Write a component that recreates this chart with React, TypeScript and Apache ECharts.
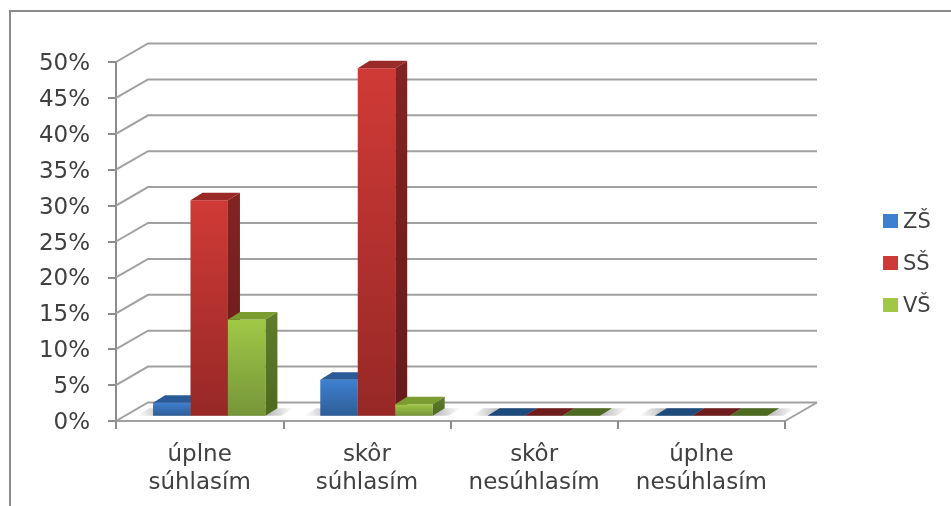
import React, { useEffect, useRef } from "react";
import * as echarts from "echarts";

const categories = ["úplne\nsúhlasím", "skôr\nsúhlasím", "skôr\nnesúhlasím", "úplne\nnesúhlasím"];
const seriesNames = ["ZŠ", "SŠ", "VŠ"];
const zs = [1.8, 5, 0, 0];
const ss = [30, 48.4, 0, 0];
const vs = [13.4, 1.6, 0, 0];
const yTicks = [0, 5, 10, 15, 20, 25, 30, 35, 40, 45, 50];

const palette = [
  { front: ["#3e80d0", "#2e5d97"], side: ["#25507f", "#1f4672"], top: "#2a5b98" , flat: "#1f4a7c"},
  { front: ["#d03a36", "#962826"], side: ["#822422", "#661a1a"], top: "#9a2a28", flat: "#6e1c1c" },
  { front: ["#a0c846", "#76953a"], side: ["#5f7d2c", "#4e6a20"], top: "#7a9c30", flat: "#4e6a20" },
];

const grad = (c: string[]) =>
  new echarts.graphic.LinearGradient(0, 0, 0, 1, [
    { offset: 0, color: c[0] },
    { offset: 1, color: c[1] },
  ]);

const WALL_DX = 32;
const WALL_DY = -18.5;
const BAR_SHIFT_X = 9.6;
const BAR_SHIFT_Y = -5.3;
const SIDE_DX = 12;
const SIDE_DY = -7.5;
const GRID_COLOR = "#a0a0a0";

const barSeries = (name: string, values: number[], idx: number) => ({
  type: "custom",
  name,
  itemStyle: { color: palette[idx].front[0] },
  z: 5,
  clip: false,
  data: categories.map((_, i) => [i, values[i]]),
  renderItem: (params: any, api: any) => {
    const p = palette[idx];
    const bw = (api.size([1, 0])[0] * 0.672) / 3;
    const [cx] = api.coord([api.value(0), 0]);
    const [, y0Raw] = api.coord([0, 0]);
    const v = api.value(1);
    const y0 = y0Raw + BAR_SHIFT_Y;
    const yt = api.coord([0, v])[1] + BAR_SHIFT_Y;
    const x0 = cx + BAR_SHIFT_X - bw * 1.5 + idx * bw;
    const x1 = x0 + bw;
    const children: any[] = [];
    if (v > 0) {
      children.push({
        type: "polygon",
        shape: { points: [[x1, yt], [x1 + SIDE_DX, yt + SIDE_DY], [x1 + SIDE_DX, y0 + SIDE_DY], [x1, y0]] },
        style: { fill: grad(p.side) },
      });
      children.push({
        type: "rect",
        shape: { x: x0, y: yt, width: bw, height: y0 - yt },
        style: { fill: grad(p.front) },
      });
    }
    children.push({
      type: "polygon",
      shape: { points: [[x0, yt], [x0 + SIDE_DX, yt + SIDE_DY], [x1 + SIDE_DX, yt + SIDE_DY], [x1, yt]] },
      style: { fill: v > 0 ? p.top : p.flat },
    });
    return { type: "group", children };
  },
});

const wallSeries = {
  type: "custom",
  name: "wall",
  z: 1,
  clip: false,
  silent: true,
  data: yTicks.map((t) => [0, t]),
  renderItem: (params: any, api: any) => {
    const left = params.coordSys.x;
    const right = left + params.coordSys.width;
    const y = api.coord([0, api.value(1)])[1];
    const style = { stroke: GRID_COLOR, lineWidth: 2, fill: "none" };
    const children: any[] = [
      { type: "polyline", shape: { points: [[left, y], [left + WALL_DX, y + WALL_DY], [right + WALL_DX, y + WALL_DY]] }, style },
    ];
    if (api.value(1) === 0) {
      children.push({ type: "line", shape: { x1: right, y1: y, x2: right + WALL_DX, y2: y + WALL_DY }, style });
    }
    return { type: "group", children };
  },
};

const shadowSeries = {
  type: "custom",
  name: "shadow",
  z: 2,
  clip: false,
  silent: true,
  data: categories.map((_, i) => [i, 0]),
  renderItem: (params: any, api: any) => {
    const bw = api.size([1, 0])[0] * 0.672;
    const [cx, y] = api.coord([api.value(0), 0]);
    const yb = y + BAR_SHIFT_Y;
    const x0 = cx + BAR_SHIFT_X - bw / 2 - 16;
    const x1 = cx + BAR_SHIFT_X + bw / 2 + 16;
    const w = x1 + SIDE_DX - x0;
    return {
      type: "polygon",
      shape: { points: [[x0, yb], [x0 + SIDE_DX, yb + SIDE_DY], [x1 + SIDE_DX, yb + SIDE_DY], [x1, yb]] },
      style: {
        fill: new echarts.graphic.LinearGradient(0, 0, 1, 0, [
          { offset: 0, color: "rgba(150,150,150,0)" },
          { offset: 24 / w, color: "rgba(150,150,150,0.6)" },
          { offset: 1 - 24 / w, color: "rgba(150,150,150,0.6)" },
          { offset: 1, color: "rgba(150,150,150,0)" },
        ]),
      },
    };
  },
};

export default function App() {
  const ref = useRef<HTMLDivElement>(null);
  useEffect(() => {
    const chart = echarts.init(ref.current!, undefined, { renderer: "svg" });
    const font = "'DejaVu Sans', sans-serif";
    chart.setOption({
      animation: false,
      backgroundColor: "#ffffff",
      grid: { left: 116, right: 166, top: 62, bottom: 85, containLabel: false },
      legend: {
        data: seriesNames,
        orient: "vertical",
        left: 878,
        top: 204,
        icon: "rect",
        itemWidth: 15,
        itemHeight: 14,
        itemGap: 18,
        selectedMode: false,
        textStyle: { fontFamily: font, fontSize: 21, color: "#404040", lineHeight: 24, padding: [0, 0, 0, 0] },
      },
      xAxis: {
        type: "category",
        data: categories,
        boundaryGap: true,
        axisLine: { lineStyle: { color: GRID_COLOR, width: 2 } },
        axisTick: { show: true, alignWithLabel: false, length: 8, lineStyle: { color: "#8c8c8c", width: 2 } },
        axisLabel: { interval: 0, margin: 18, fontFamily: font, fontSize: 23, lineHeight: 28, color: "#404040" },
      },
      yAxis: {
        type: "value",
        min: 0,
        max: 50,
        interval: 5,
        axisLine: { show: true, lineStyle: { color: "#8c8c8c", width: 2 } },
        axisTick: { show: true, length: 8, lineStyle: { color: "#8c8c8c", width: 2 } },
        splitLine: { show: false },
        axisLabel: { margin: 26, padding: [8, 0, 0, 0], formatter: "{value}%", fontFamily: font, fontSize: 23, color: "#404040" },
      },
      graphic: [
        {
          type: "polyline",
          silent: true,
          shape: { points: [[10, 506], [10, 11], [951, 11]] },
          style: { stroke: "#8a8a8a", lineWidth: 2, fill: "none" },
        },
      ],
      series: [
        wallSeries,
        shadowSeries,
        barSeries(seriesNames[0], zs, 0),
        barSeries(seriesNames[1], ss, 1),
        barSeries(seriesNames[2], vs, 2),
      ],
    });
    return () => chart.dispose();
  }, []);
  return (
    <div
      ref={ref}
      style={{ position: "absolute", left: 0, top: 0, width: 951, height: 506, filter: "blur(0.6px)" }}
    />
  );
}
